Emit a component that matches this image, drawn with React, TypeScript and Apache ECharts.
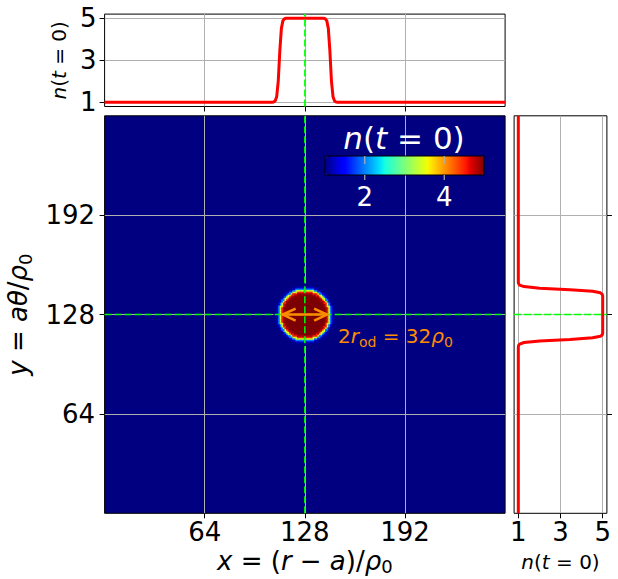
import React, { useEffect, useRef } from 'react';
import * as echarts from 'echarts';

// ---------- data ----------
const AXIS_MIN = 0;
const AXIS_MAX = 256;
const posTicks = [64, 128, 192];
const nTicks = [1, 3, 5];
const nRange = [0.8, 5.2];
const cbarTicks = [2, 4];
const nMin = 1;
const nMax = 5;
const blobCenter = [128, 128];
// radial profile of n(t=0) around the blob centre: distance (rho0) -> n
const profileR = [0, 1, 2, 3, 4, 5, 6, 7, 8, 9, 10, 11, 12, 13, 14, 15, 16, 17, 18, 19, 20, 21];
const profileN = [5, 5, 5, 5, 5, 5, 5, 5, 5, 5, 5, 5, 5, 4.98, 4.89, 4.52, 3.45, 2.01, 1.27, 1.06, 1.01, 1.0];
// double arrow marking the blob diameter 2 r_od = 32 rho0 at y = 128
const arrowSpan = [112, 144];
const arrowY = 128;

const FONT = 'DejaVu Sans';

// ---------- derived series ----------
const cells: number[][] = [];
{
  const maxR = profileR[profileR.length - 1];
  for (let i = blobCenter[0] - maxR - 1; i <= blobCenter[0] + maxR; i++) {
    for (let j = blobCenter[1] - maxR - 1; j <= blobCenter[1] + maxR; j++) {
      const r = Math.hypot(i + 0.5 - blobCenter[0], j + 0.5 - blobCenter[1]);
      const k = Math.round(r);
      if (k >= profileN.length) continue;
      const n = profileN[k];
      if (n <= nMin) continue;
      cells.push([i, j, n]);
    }
  }
}
const topLine: number[][] = [[AXIS_MIN, nMin]];
for (let k = profileR.length - 1; k >= 0; k--) topLine.push([blobCenter[0] - profileR[k], profileN[k]]);
for (let k = 1; k < profileR.length; k++) topLine.push([blobCenter[0] + profileR[k], profileN[k]]);
topLine.push([AXIS_MAX, nMin]);
const rightLine: number[][] = topLine.map(([p, n]) => [n, p - blobCenter[0] + blobCenter[1]]);

// jet colormap (matplotlib)
function jet(t: number): string {
  const seg = (pts: number[][]) => {
    for (let i = 0; i < pts.length - 1; i++) {
      const [x0, y0] = pts[i];
      const [x1, y1] = pts[i + 1];
      if (t <= x1) return y0 + ((y1 - y0) * (t - x0)) / (x1 - x0);
    }
    return pts[pts.length - 1][1];
  };
  const r = seg([[0, 0], [0.35, 0], [0.66, 1], [0.89, 1], [1, 0.5]]);
  const g = seg([[0, 0], [0.125, 0], [0.375, 1], [0.64, 1], [0.91, 0], [1, 0]]);
  const b = seg([[0, 0.5], [0.11, 1], [0.34, 1], [0.65, 0], [1, 0]]);
  const h = (v: number) => Math.round(Math.max(0, Math.min(1, v)) * 255).toString(16).padStart(2, '0');
  return '#' + h(r) + h(g) + h(b);
}
const jetColors: string[] = [];
for (let i = 0; i <= 64; i++) jetColors.push(jet(i / 64));

function rich(F: number, color: string, lh?: number) {
  const L = lh ?? Math.round(F * 1.3);
  const base = { fontFamily: FONT, fontSize: F, color, fill: color, lineHeight: L, verticalAlign: 'middle' };
  return {
    n: { ...base },
    i: { ...base, fontStyle: 'italic' },
    s: {
      fontFamily: FONT,
      fontSize: Math.round(F * 0.7),
      color,
      fill: color,
      lineHeight: L - 0.75 * F,
      verticalAlign: 'bottom',
    },
  };
}

const tick = { show: true, length: 5, inside: false, lineStyle: { color: '#000', width: 1 } };
const gridLine = { show: true, lineStyle: { color: '#b0b0b0', width: 1 } };
const labelStyle = { fontFamily: FONT, fontSize: 26, color: '#000' };
const green = { color: '#00ff00', width: 1.5, type: [7, 3] };

// colorbar geometry
const CB = { x: 325, y: 156, w: 159, h: 19 };
const cbX = (v: number) => CB.x + ((v - nMin) / (nMax - nMin)) * CB.w;

export default function App() {
  const ref = useRef<HTMLDivElement>(null);
  useEffect(() => {
    if (!ref.current) return;
    const chart = echarts.init(ref.current, undefined, { renderer: 'svg' });
    const option: any = {
      animation: false,
      backgroundColor: '#fff',
      grid: [
        { left: 104.6, top: 115.8, width: 400.5, height: 397.5, show: true, backgroundColor: jet(0), borderColor: '#000', borderWidth: 1, outerBoundsMode: 'none' },
        { left: 104.6, top: 14.1, width: 400.5, height: 92.4, show: true, backgroundColor: '#fff', borderColor: '#000', borderWidth: 1, outerBoundsMode: 'none' },
        { left: 514.1, top: 115.8, width: 92.8, height: 397.5, show: true, backgroundColor: '#fff', borderColor: '#000', borderWidth: 1, outerBoundsMode: 'none' },
      ],
      xAxis: [
        {
          type: 'value', gridIndex: 0, min: AXIS_MIN, max: AXIS_MAX, position: 'bottom',
          axisLine: { show: false },
          axisTick: { ...tick, customValues: posTicks },
          axisLabel: { ...labelStyle, margin: 6, customValues: posTicks },
          splitLine: gridLine,
          name: '{i|x}{n| = (}{i|r}{n| − }{i|a}{n|)/}{i|ρ}{s|0}',
          nameLocation: 'middle', nameGap: 34, nameMoveOverlap: false,
          nameTextStyle: { rich: rich(26, '#000', 28) },
        },
        {
          type: 'value', gridIndex: 1, min: AXIS_MIN, max: AXIS_MAX, position: 'bottom',
          axisLine: { show: false },
          axisTick: { ...tick, customValues: posTicks },
          axisLabel: { show: false, customValues: posTicks },
          splitLine: gridLine,
        },
        {
          type: 'value', gridIndex: 2, min: nRange[0], max: nRange[1], position: 'bottom',
          axisLine: { show: false },
          axisTick: { ...tick, customValues: nTicks },
          axisLabel: { ...labelStyle, margin: 6, customValues: nTicks },
          splitLine: gridLine,
          name: '{i|n}{n|(}{i|t}{n| = 0)}',
          nameLocation: 'middle', nameGap: 36,
          nameTextStyle: { rich: rich(20, '#000') },
        },
      ],
      yAxis: [
        {
          type: 'value', gridIndex: 0, min: AXIS_MIN, max: AXIS_MAX, position: 'left',
          axisLine: { show: false },
          axisTick: { ...tick, customValues: posTicks },
          axisLabel: { ...labelStyle, margin: 9.5, customValues: posTicks },
          splitLine: gridLine,
          name: '{i|y}{n| = }{i|aθ}{n|/}{i|ρ}{s|0}',
          nameLocation: 'middle', nameGap: 63, nameRotate: 90,
          nameTextStyle: { rich: rich(26, '#000') },
        },
        {
          type: 'value', gridIndex: 1, min: nRange[0], max: nRange[1], position: 'left',
          axisLine: { show: false },
          axisTick: { ...tick, customValues: nTicks },
          axisLabel: { ...labelStyle, margin: 8, customValues: nTicks },
          splitLine: gridLine,
          name: '{i|n}{n|(}{i|t}{n| = 0)}',
          nameLocation: 'middle', nameGap: 30, nameRotate: 90,
          nameTextStyle: { rich: rich(20, '#000') },
        },
        {
          type: 'value', gridIndex: 2, min: AXIS_MIN, max: AXIS_MAX, position: 'right',
          axisLine: { show: false },
          axisTick: { ...tick, customValues: posTicks },
          axisLabel: { show: false, customValues: posTicks },
          splitLine: gridLine,
        },
      ],
      visualMap: {
        type: 'continuous',
        seriesIndex: 0,
        dimension: 2,
        min: nMin,
        max: nMax,
        orient: 'horizontal',
        left: CB.x,
        top: CB.y,
        itemWidth: CB.h,
        itemHeight: CB.w,
        padding: 0,
        calculable: false,
        hoverLink: false,
        inRange: { color: jetColors },
        textStyle: { color: 'transparent' },
      },
      series: [
        {
          type: 'custom',
          xAxisIndex: 0,
          yAxisIndex: 0,
          data: cells,
          encode: { x: 0, y: 1 },
          renderItem: (_p: any, api: any) => {
            const x = api.value(0);
            const y = api.value(1);
            const a = api.coord([x, y + 1]);
            const b = api.coord([x + 1, y]);
            return {
              type: 'rect',
              shape: { x: a[0], y: a[1], width: b[0] - a[0] + 0.4, height: b[1] - a[1] + 0.4 },
              style: { fill: api.visual('color') },
            };
          },
          z: 2,
        },
        {
          type: 'line', xAxisIndex: 0, yAxisIndex: 0, symbol: 'none', z: 3,
          data: [[blobCenter[0], AXIS_MIN], [blobCenter[0], AXIS_MAX]],
          lineStyle: green,
        },
        {
          type: 'line', xAxisIndex: 0, yAxisIndex: 0, symbol: 'none', z: 3,
          data: [[AXIS_MIN, blobCenter[1]], [AXIS_MAX, blobCenter[1]]],
          lineStyle: green,
        },
        {
          type: 'custom', xAxisIndex: 0, yAxisIndex: 0, z: 4,
          data: [[arrowSpan[0], arrowSpan[1], arrowY]],
          encode: { x: [0, 1], y: 2 },
          renderItem: (_p: any, api: any) => {
            const a = api.coord([api.value(0), api.value(2)]);
            const b = api.coord([api.value(1), api.value(2)]);
            const s = 2.8, hl = 13, hw = 6;
            const x0 = a[0] + s;
            const x1 = b[0] - s;
            const y = a[1];
            const style = { stroke: '#ff8c00', lineWidth: 2.5, fill: 'none' };
            return {
              type: 'group',
              children: [
                { type: 'line', shape: { x1: x0, y1: y, x2: x1, y2: y }, style },
                { type: 'polyline', shape: { points: [[x0 + hl, y - hw], [x0, y], [x0 + hl, y + hw]] }, style },
                { type: 'polyline', shape: { points: [[x1 - hl, y - hw], [x1, y], [x1 - hl, y + hw]] }, style },
              ],
            };
          },
        },
        {
          type: 'line', xAxisIndex: 1, yAxisIndex: 1, symbol: 'none', z: 2,
          data: topLine,
          lineStyle: { color: '#ff0000', width: 3 },
        },
        {
          type: 'line', xAxisIndex: 1, yAxisIndex: 1, symbol: 'none', z: 3,
          data: [[blobCenter[0], nRange[0]], [blobCenter[0], nRange[1]]],
          lineStyle: green,
        },
        {
          type: 'line', xAxisIndex: 2, yAxisIndex: 2, symbol: 'none', z: 2,
          data: rightLine,
          lineStyle: { color: '#ff0000', width: 3 },
        },
        {
          type: 'line', xAxisIndex: 2, yAxisIndex: 2, symbol: 'none', z: 3,
          data: [[nRange[0], blobCenter[1]], [nRange[1], blobCenter[1]]],
          lineStyle: green,
        },
      ],
      graphic: [
        {
          type: 'rect', z: 100,
          shape: { x: CB.x, y: CB.y, width: CB.w, height: CB.h },
          style: { fill: 'none', stroke: '#000', lineWidth: 1 },
        },
        ...cbarTicks.map((v) => ({
          type: 'line', z: 100,
          shape: { x1: cbX(v), y1: CB.y, x2: cbX(v), y2: CB.y + 8 },
          style: { stroke: '#b0b0b0', lineWidth: 1.2 },
        })),
        ...cbarTicks.map((v) => ({
          type: 'line', z: 100,
          shape: { x1: cbX(v), y1: CB.y + CB.h, x2: cbX(v), y2: CB.y + CB.h + 5 },
          style: { stroke: '#b0b0b0', lineWidth: 1.2 },
        })),
        ...cbarTicks.map((v) => ({
          type: 'text', z: 100, x: cbX(v), y: 197,
          style: { text: String(v), fontFamily: FONT, fontSize: 26, fill: '#fff', align: 'center', verticalAlign: 'middle' },
        })),
        {
          type: 'text', z: 100, x: 404, y: 138,
          style: { text: '{i|n}{n|(}{i|t}{n| = 0)}', rich: rich(31, '#fff'), fill: '#fff', fontFamily: FONT, fontSize: 31, align: 'center', verticalAlign: 'middle' },
        },
        {
          type: 'text', z: 100, x: 338, y: 336,
          style: { text: '{n|2}{i|r}{s|od}{n| = 32}{i|ρ}{s|0}', rich: rich(20, '#ff8c00'), fill: '#ff8c00', fontFamily: FONT, fontSize: 20, align: 'left', verticalAlign: 'middle' },
        },
      ],
    };
    chart.setOption(option);
    return () => chart.dispose();
  }, []);
  return <div ref={ref} style={{ position: 'fixed', left: 0, top: 0, width: 618, height: 579 }} />;
}
